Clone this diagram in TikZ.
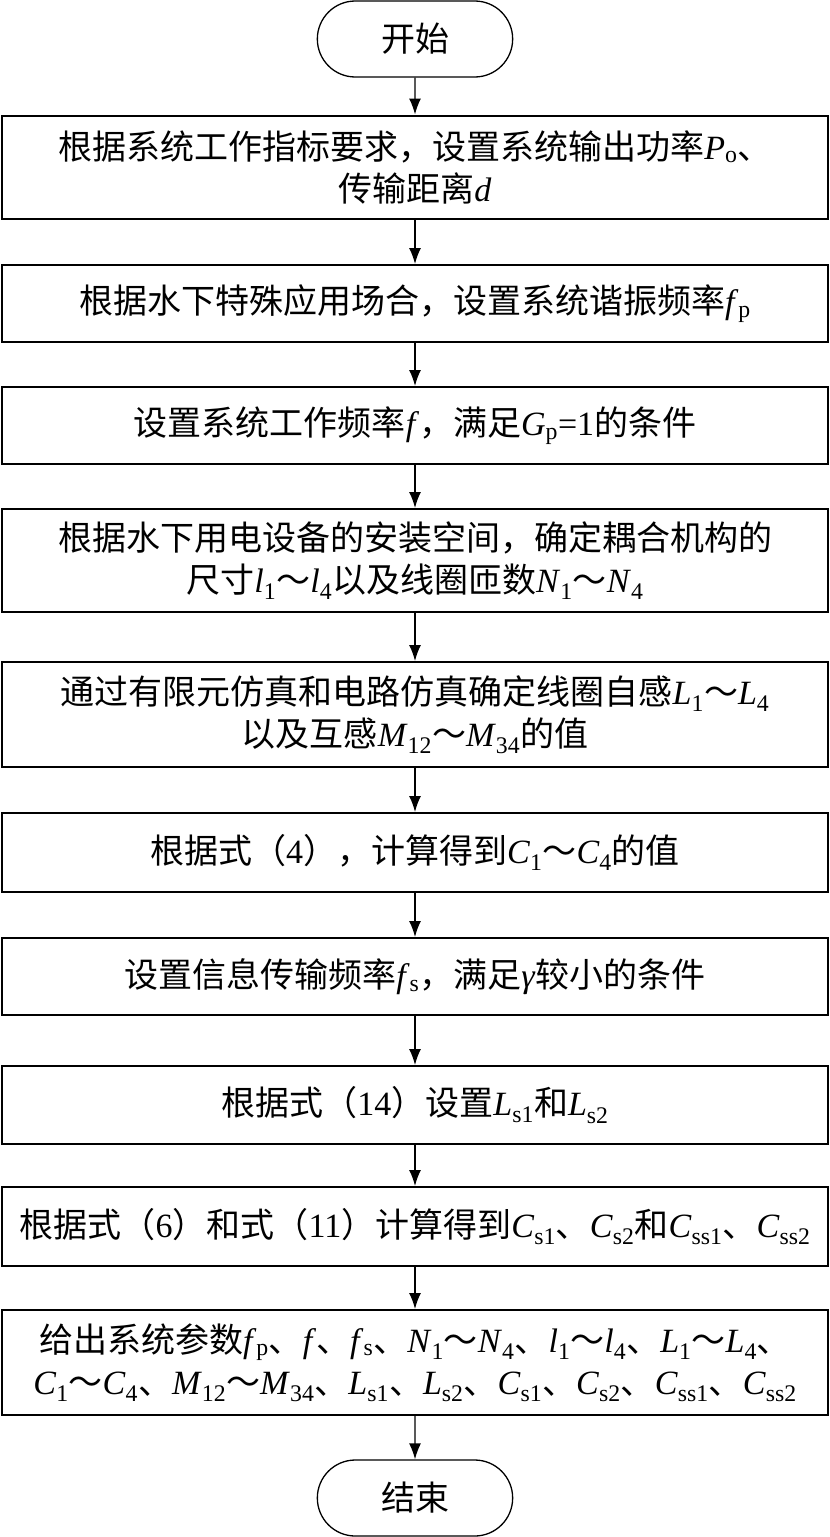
\documentclass[tikz,border=0pt]{standalone}
\usepackage{fontspec}
\setmainfont{Noto Sans CJK SC}
\newfontfamily\tm{Liberation Serif}
\usetikzlibrary{arrows.meta,shapes.misc}
\newcommand\mv[2]{{\tm\textit{#1}\textsubscript{#2}}}
\newcommand\iv[1]{{\tm\textit{#1}}}

\begin{document}
\begin{tikzpicture}[x=1pt, y=-1pt,
    font=\fontsize{34}{42}\selectfont,
    box/.style={draw, line width=2pt, minimum width=826pt, align=center, inner sep=2pt},
    term/.style={draw, rounded rectangle, line width=1.3pt, minimum width=202pt, minimum height=76pt},
    flow/.style={-{Latex[length=16pt,width=12pt]}, line width=1.4pt}]
    \useasboundingbox (0,0) rectangle (830,1537);

    \node[term] (start) at (415,39) {开始};
    \node[box, minimum height=103pt] (b1) at (415,167) {根据系统工作指标要求，设置系统输出功率\mv{P}{o}、\\传输距离\iv{d}};
    \node[box, minimum height=77pt] (b2) at (415,303.5) {根据水下特殊应用场合，设置系统谐振频率\mv{f}{p}};
    \node[box, minimum height=77pt] (b3) at (415,425.5) {设置系统工作频率\iv{f}，满足\mv{G}{p}{\tm =1}的条件};
    \node[box, minimum height=103pt] (b4) at (415,560.5) {根据水下用电设备的安装空间，确定耦合机构的\\尺寸\mv{l}{1}～\mv{l}{4}以及线圈匝数\mv{N}{1}～\mv{N}{4}};
    \node[box, minimum height=105pt] (b5) at (415,714.5) {通过有限元仿真和电路仿真确定线圈自感\mv{L}{1}～\mv{L}{4}\\以及互感\mv{M}{12}～\mv{M}{34}的值};
    \node[box, minimum height=79pt] (b6) at (415,852.5) {根据式（{\tm 4}），计算得到\mv{C}{1}～\mv{C}{4}的值};
    \node[box, minimum height=77pt] (b7) at (415,976.5) {设置信息传输频率\mv{f}{s}，满足\iv{γ}较小的条件};
    \node[box, minimum height=78pt] (b8) at (415,1105) {根据式（{\tm 14}）设置\mv{L}{s1}和\mv{L}{s2}};
    \node[box, minimum height=79pt] (b9) at (415,1226.5) {根据式（{\tm 6}）和式（{\tm 11}）计算得到\mv{C}{s1}、\mv{C}{s2}和\mv{C}{ss1}、\mv{C}{ss2}};
    \node[box, minimum height=105pt] (b10) at (415,1362.5) {给出系统参数\mv{f}{p}、\iv{f}、\mv{f}{s}、\mv{N}{1}～\mv{N}{4}、\mv{l}{1}～\mv{l}{4}、\mv{L}{1}～\mv{L}{4}、\\\mv{C}{1}～\mv{C}{4}、\mv{M}{12}～\mv{M}{34}、\mv{L}{s1}、\mv{L}{s2}、\mv{C}{s1}、\mv{C}{s2}、\mv{C}{ss1}、\mv{C}{ss2}};
    \node[term] (stop) at (415,1498) {结束};

    \foreach \a/\b in {start/b1, b1/b2, b2/b3, b3/b4, b4/b5, b5/b6, b6/b7, b7/b8, b8/b9, b9/b10, b10/stop}
        \draw[flow] (\a) -- (\b); % one arrow per step

\end{tikzpicture}
\end{document}
